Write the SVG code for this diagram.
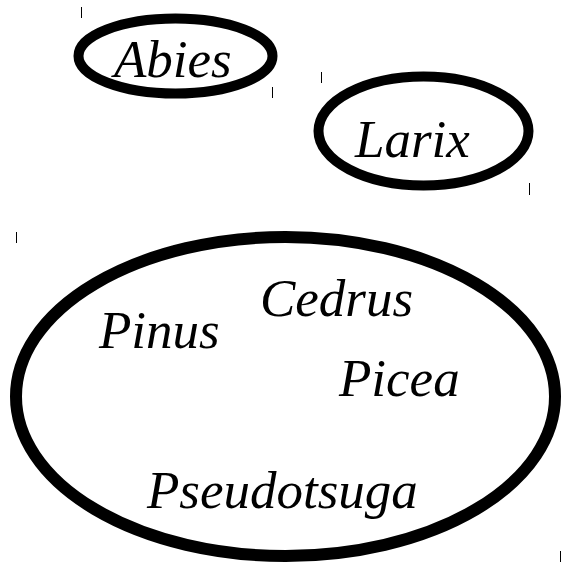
<svg xmlns="http://www.w3.org/2000/svg" width="561" height="562" viewBox="0 0 561 562">
<style>
.e{fill:none;stroke:#000}
.t{font-family:"Liberation Serif","Times New Roman",serif;font-style:italic;font-size:53px;fill:#000}
.k{stroke:#000;stroke-width:1}
</style>
<rect width="561" height="562" fill="#fff"/>
<g id="abies">
<ellipse class="e" cx="175.5" cy="56" rx="97" ry="37.5" stroke-width="10"/>
<text class="t" x="114" y="77">Abies</text>
<line class="k" x1="81.5" y1="7" x2="81.5" y2="18"/>
<line class="k" x1="272.5" y1="87" x2="272.5" y2="98"/>
</g>
<g id="larix">
<ellipse class="e" cx="423.5" cy="131" rx="105" ry="54.5" stroke-width="10"/>
<text class="t" x="355" y="157">Larix</text>
<line class="k" x1="321.5" y1="72" x2="321.5" y2="83"/>
<line class="k" x1="529.5" y1="183" x2="529.5" y2="195"/>
</g>
<g id="group">
<ellipse class="e" cx="285.5" cy="396.5" rx="269.5" ry="159.5" stroke-width="12"/>
<line class="k" x1="16.5" y1="232" x2="16.5" y2="243"/>
<line class="k" x1="560.5" y1="551" x2="560.5" y2="562"/>
</g>
<g id="pinus"><text class="t" x="99" y="348">Pinus</text></g>
<g id="cedrus"><text class="t" x="260" y="316">Cedrus</text></g>
<g id="picea"><text class="t" x="339" y="396">Picea</text></g>
<g id="pseudotsuga"><text class="t" x="147" y="508">Pseudotsuga</text></g>
<g id="connectors"></g>
</svg>
